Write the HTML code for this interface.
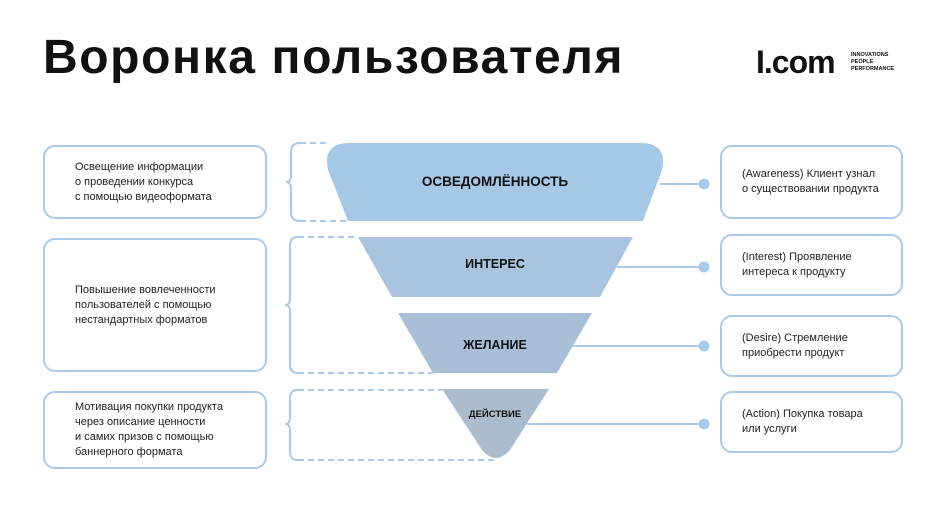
<!DOCTYPE html>
<html><head><meta charset="utf-8"><style>
body{margin:0;width:941px;height:529px;background:#fff;font-family:"Liberation Sans","DejaVu Sans",sans-serif;position:relative;overflow:hidden}
.t{position:absolute;left:43px;top:30px;font-size:48px;font-weight:bold;color:#111;letter-spacing:1.6px}
.box{position:absolute;border:2.5px solid #a9cae8;border-radius:12px;box-sizing:border-box;font-size:11px;line-height:15px;color:#222;display:flex;align-items:center}
.l{left:43px;width:224px;padding-left:30px}
.r{left:720px;width:183px;padding-left:20px}
</style></head><body>
<div class="t">Воронка пользователя</div>
<div style="position:absolute;left:756px;top:44px;font-size:32px;font-weight:bold;color:#111;letter-spacing:-1px">I.com</div>
<div style="position:absolute;left:851px;top:52px;font-size:5.5px;line-height:7px;font-weight:bold;color:#111">INNOVATIONS<br>PEOPLE<br>PERFORMANCE</div>

<svg width="941" height="529" style="position:absolute;left:0;top:0">
<g fill="none" stroke="#a9cae8" stroke-width="2">
<path d="M300 143 H326 M300 221 H348 M298 237 H358 M298 373 H433 M298 390 H442 M298 460 H495" stroke-dasharray="6 4"/>
<path d="M300 143 Q291 143 291 152 V176 Q291 182 286 182 Q291 182 291 188 V212 Q291 221 300 221"/>
<path d="M298 237 Q290 237 290 246 V299 Q290 305 285 305 Q290 305 290 311 V364 Q290 373 298 373"/>
<path d="M298 390 Q290 390 290 398 V418 Q290 424 285 424 Q290 424 290 430 V452 Q290 460 298 460"/>
<path d="M660 184 H704 M617 267 H704 M570 346 H704 M527 424 H704"/>
</g>
<g fill="#a9cae8"><circle cx="704" cy="184" r="5.5"/><circle cx="704" cy="267" r="5.5"/><circle cx="704" cy="346" r="5.5"/><circle cx="704" cy="424" r="5.5"/></g>
<path d="M350 143 H640 Q668 143 662 170 L643 221 H348 L328 170 Q322 143 350 143Z" fill="#a5c8e6"/>
<path d="M358 237 H633 L600 297 H392Z" fill="#a8c4df"/>
<path d="M398 313 H592 L557 373 H433Z" fill="#a8bfd7"/>
<path d="M442 389 H549 L510 450 Q496 466 482 450Z" fill="#abbdcd"/>
<g font-family="Liberation Sans,sans-serif" font-weight="bold" fill="#111" text-anchor="middle">
<text x="495" y="186" font-size="13.5">ОСВЕДОМЛЁННОСТЬ</text>
<text x="495" y="268" font-size="12.5">ИНТЕРЕС</text>
<text x="495" y="349" font-size="12.5">ЖЕЛАНИЕ</text>
<text x="495" y="417" font-size="9.5">ДЕЙСТВИЕ</text>
</g>
</svg>

<div class="box l" style="top:145px;height:74px">Освещение информации<br>о проведении конкурса<br>с помощью видеоформата</div>
<div class="box l" style="top:238px;height:134px">Повышение вовлеченности<br>пользователей с помощью<br>нестандартных форматов</div>
<div class="box l" style="top:391px;height:78px">Мотивация покупки продукта<br>через описание ценности<br>и самих призов с помощью<br>баннерного формата</div>
<div class="box r" style="top:145px;height:74px">(Awareness) Клиент узнал<br>о существовании продукта</div>
<div class="box r" style="top:234px;height:62px">(Interest) Проявление<br>интереса к продукту</div>
<div class="box r" style="top:315px;height:62px">(Desire) Стремление<br>приобрести продукт</div>
<div class="box r" style="top:391px;height:62px">(Action) Покупка товара<br>или услуги</div>
</body></html>
